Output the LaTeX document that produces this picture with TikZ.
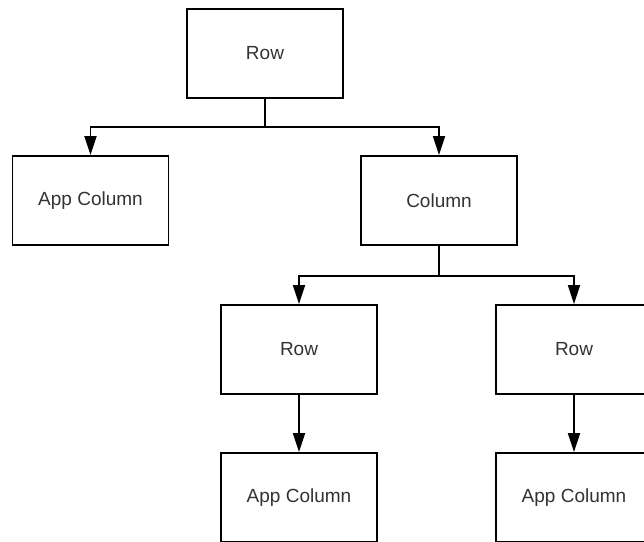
\documentclass[tikz,border=0pt]{standalone}
\usepackage{fontspec}
\setmainfont{Liberation Sans}
\usetikzlibrary{arrows.meta}
\definecolor{txt}{HTML}{333333}
\begin{document}
\begin{tikzpicture}[x=1pt,y=1pt,
  box/.style={draw=black, line width=1.8pt, minimum width=156pt, minimum height=89pt, inner sep=0pt, text=txt, font=\fontsize{19}{21}\selectfont},
  conn/.style={line width=1.8pt, -{Triangle[length=19pt,width=12pt]}},
  link/.style={line width=1.8pt}]
\useasboundingbox (0,0) rectangle (644,-541);
\clip (0,0) rectangle (644,-541);
\fill[white] (0,0) rectangle (644,-541);
\node[box] (top) at (265,-53.5) {Row};
\node[box] (appL) at (90.5,-200.5) {App Column};
\node[box] (col) at (439,-200.5) {Column};
\node[box] (rowL) at (299,-349.5) {Row};
\node[box] (rowR) at (574,-349.5) {Row};
\node[box] (appBL) at (299,-497.5) {App Column};
\node[box] (appBR) at (574,-497.5) {App Column};
\coordinate (b1) at (265,-127);
\coordinate (b2) at (439,-276);
\draw[link] (top.south) -- (b1);
\draw[conn] (b1) -| (appL.north);
\draw[conn] (b1) -| (col.north);
\draw[link] (col.south) -- (b2);
\draw[conn] (b2) -| (rowL.north);
\draw[conn] (b2) -| (rowR.north);
\draw[conn] (rowL.south) -- (appBL.north);
\draw[conn] (rowR.south) -- (appBR.north);
\end{tikzpicture}
\end{document}
